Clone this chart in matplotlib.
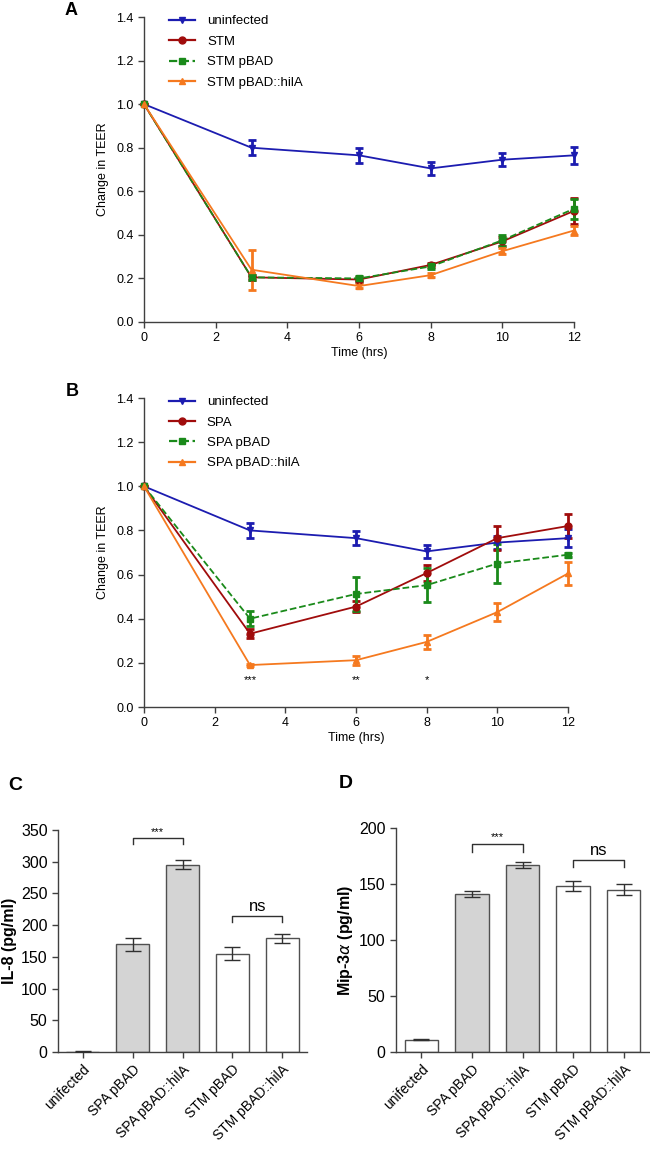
import numpy as np
import matplotlib
matplotlib.use("Agg")
import matplotlib.pyplot as plt
from matplotlib.lines import Line2D

plt.rcParams['font.family'] = ['Liberation Sans', 'DejaVu Sans']

# ── data ──────────────────────────────────────────────
hours = [0, 3, 6, 8, 10, 12]

uninf = [1.0, 0.80, 0.765, 0.705, 0.745, 0.765]
uninf_err = [0.0, 0.035, 0.033, 0.03, 0.03, 0.04]

stm = [1.0, 0.205, 0.195, 0.262, 0.37, 0.51]
stm_err = [0.0, 0.01, 0.01, 0.01, 0.02, 0.06]
stm_pbad = [1.0, 0.205, 0.2, 0.255, 0.375, 0.52]
stm_pbad_err = [0.0, 0.01, 0.01, 0.012, 0.025, 0.045]
stm_hila = [1.0, 0.24, 0.165, 0.215, 0.325, 0.42]
stm_hila_err = [0.0, 0.092, 0.01, 0.01, 0.015, 0.02]

spa = [1.0, 0.332, 0.455, 0.607, 0.765, 0.82]
spa_err = [0.0, 0.02, 0.025, 0.035, 0.055, 0.055]
spa_pbad = [1.0, 0.40, 0.512, 0.552, 0.65, 0.69]
spa_pbad_err = [0.0, 0.035, 0.077, 0.077, 0.09, 0.01]
spa_hila = [1.0, 0.19, 0.212, 0.295, 0.43, 0.605]
spa_hila_err = [0.0, 0.005, 0.02, 0.03, 0.04, 0.05]

sig_hours = [3, 6, 8]
sig_marks = ["***", "**", "*"]

bar_cats = ["unifected", "SPA pBAD", "SPA pBAD::hilA", "STM pBAD", "STM pBAD::hilA"]
il8 = [0.5, 170, 295, 155, 179]
il8_err = [0.3, 10, 7, 10, 7]
mip = [11, 141, 167, 148, 145]
mip_err = [0.6, 2.5, 3, 4.5, 5]
bar_fill = ["white", "#d4d4d4", "#d4d4d4", "white", "white"]

BLUE = "#1c1cb0"
RED = "#a00c0c"
GREEN = "#1a8a1a"
ORANGE = "#f5791f"
AXC = "#404040"

fig = plt.figure(figsize=(6.5, 11.59), dpi=100)
H = 1159.0
W = 650.0


def px_axes(l, t, r, b):
    return fig.add_axes([l / W, (H - b) / H, (r - l) / W, (b - t) / H])


def style(ax):
    for s in ("top", "right"):
        ax.spines[s].set_visible(False)
    for s in ("left", "bottom"):
        ax.spines[s].set_color(AXC)
        ax.spines[s].set_linewidth(1.0)
    ax.tick_params(colors="black", direction="out", length=4, width=1.0)
    ax.tick_params(axis="both", color=AXC)


def line_panel(ax, series, letter):
    style(ax)
    handles = []
    for y, e, col, mk, ls, lab in series:
        ax.errorbar(hours, y, yerr=e, color=col, marker=mk, ms=5, lw=1.3,
                    ls=ls, capsize=3, elinewidth=2.0, capthick=2.0,
                    clip_on=False, zorder=3)
        handles.append(Line2D([], [], color=col, marker=mk, ms=5, lw=1.6,
                              ls=ls, label=lab))
    ax.set_xlim(0, 12)
    ax.set_ylim(0, 1.4)
    ax.set_xticks(range(0, 13, 2))
    ax.set_yticks(np.arange(0, 1.41, 0.2))
    ax.yaxis.set_major_formatter(matplotlib.ticker.FormatStrFormatter("%.1f"))
    ax.tick_params(labelsize=9)
    ax.set_xlabel("Time (hrs)", fontsize=9, labelpad=2)
    ax.set_ylabel("Change in TEER", fontsize=9, labelpad=5)
    ax.legend(handles=handles, loc="upper left", bbox_to_anchor=(0.03, 1.045),
              frameon=False, fontsize=9.5, handlelength=2.0,
              labelspacing=0.62, handletextpad=0.9, numpoints=1)
    ax.text(-0.17, 1.02, letter, transform=ax.transAxes, fontsize=13,
            fontweight="bold", ha="center", va="center")


axA = px_axes(144, 17, 574, 322)
line_panel(axA, [
    (uninf, uninf_err, BLUE, "v", "-", "uninfected"),
    (stm, stm_err, RED, "o", "-", "STM"),
    (stm_pbad, stm_pbad_err, GREEN, "s", "--", "STM pBAD"),
    (stm_hila, stm_hila_err, ORANGE, "^", "-", "STM pBAD::hilA"),
], "A")

axB = px_axes(144, 398, 568, 707)
line_panel(axB, [
    (uninf, uninf_err, BLUE, "v", "-", "uninfected"),
    (spa, spa_err, RED, "o", "-", "SPA"),
    (spa_pbad, spa_pbad_err, GREEN, "s", "--", "SPA pBAD"),
    (spa_hila, spa_hila_err, ORANGE, "^", "-", "SPA pBAD::hilA"),
], "B")
for h, m in zip(sig_hours, sig_marks):
    axB.text(h, 0.12, m, ha="center", va="center", fontsize=8)


def bar_panel(ax, vals, errs, ymax, step, ylabel, letter, lx, brackets):
    style(ax)
    xs = np.arange(len(bar_cats))
    ax.bar(xs, vals, width=0.66, color=bar_fill, edgecolor="#505050",
           linewidth=1.0, zorder=2)
    ax.errorbar(xs, vals, yerr=errs, fmt="none", ecolor="#303030",
                elinewidth=1.0, capsize=6, capthick=1.0, zorder=3)
    ax.set_xlim(-0.5, 4.5)
    ax.set_ylim(0, ymax)
    ax.set_yticks(np.arange(0, ymax + 1, step))
    ax.set_xticks(xs)
    ax.set_xticklabels(bar_cats, rotation=45, ha="right",
                       rotation_mode="anchor", fontsize=10)
    ax.tick_params(axis="y", labelsize=11.5)
    ax.set_ylabel(ylabel, fontsize=11.5, fontweight="bold", labelpad=3)
    for x0, x1, top, leg, lab, fs, dy in brackets:
        ax.plot([x0, x0, x1, x1], [leg, top, top, leg], color="#303030",
                lw=1.0, clip_on=False)
        ax.text((x0 + x1) / 2, top + dy, lab, ha="center", va="bottom",
                fontsize=fs)
    ax.text(lx, 1.2, letter, transform=ax.transAxes, fontsize=14,
            fontweight="bold", ha="center", va="center")


axC = px_axes(58, 830, 307, 1052)
bar_panel(axC, il8, il8_err, 350, 50, "IL-8 (pg/ml)", "C", -0.17,
          [(1, 2, 337, 328, "***", 8, 2), (3, 4, 214, 205, "ns", 12, 3)])

axD = px_axes(396, 828, 649, 1052)
bar_panel(axD, mip, mip_err, 200, 50, r"Mip-3$\alpha$ (pg/ml)", "D", -0.2,
          [(1, 2, 186, 179, "***", 8, 1), (3, 4, 171, 165, "ns", 12, 2)])

fig.savefig("out.png", dpi=100, facecolor="white")
